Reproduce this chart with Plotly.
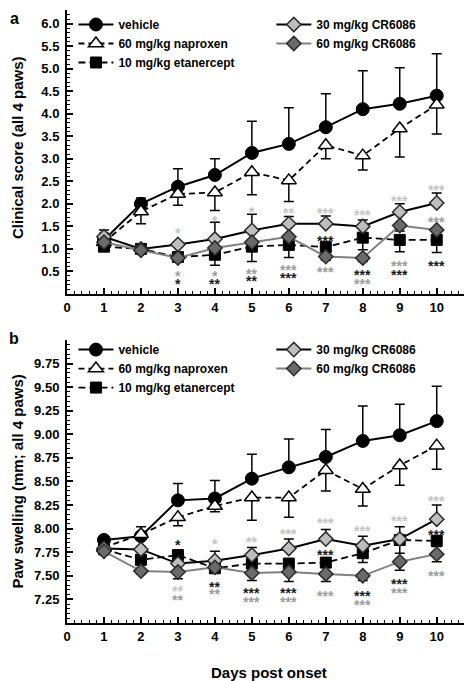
import plotly.graph_objects as go

days = [1, 2, 3, 4, 5, 6, 7, 8, 9, 10]
x_tick_vals = [0, 1, 2, 3, 4, 5, 6, 7, 8, 9, 10]

# ---- panel a: clinical score ----
clin_vehicle = [1.20, 2.00, 2.38, 2.64, 3.13, 3.33, 3.70, 4.10, 4.22, 4.40]
clin_vehicle_up = [0.15, 0.13, 0.40, 0.36, 0.70, 0.80, 0.74, 0.85, 0.80, 0.93]
clin_naproxen = [1.15, 1.83, 2.22, 2.25, 2.70, 2.52, 3.30, 3.07, 3.67, 4.20]
clin_naproxen_dn = [0.10, 0.27, 0.25, 0.40, 0.50, 0.47, 0.30, 0.32, 0.63, 0.65]
clin_etanercept = [1.05, 1.00, 0.82, 0.87, 1.05, 1.09, 1.04, 1.25, 1.20, 1.20]
clin_etanercept_dn = [0.05, 0.05, 0.05, 0.23, 0.33, 0.28, 0.10, 0.27, 0.26, 0.28]
clin_cr30 = [1.27, 1.00, 1.10, 1.22, 1.41, 1.56, 1.56, 1.50, 1.82, 2.02]
clin_cr30_up = [0.15, 0.03, 0.05, 0.37, 0.36, 0.16, 0.17, 0.14, 0.18, 0.22]
clin_cr60 = [1.15, 0.97, 0.80, 1.02, 1.15, 1.27, 0.83, 0.80, 1.52, 1.42]
clin_cr60_dn = [0.05, 0.05, 0.05, 0.10, 0.10, 0.10, 0.08, 0.08, 0.12, 0.12]
clin_yticks = [0.5, 1.0, 1.5, 2.0, 2.5, 3.0, 3.5, 4.0, 4.5, 5.0, 5.5, 6.0]

clin_star_days = [3, 4, 5, 6, 7, 8, 9, 10,
                  3, 4, 5, 6, 7, 8, 9, 10,
                  3, 4, 5, 6, 7, 8, 9, 10]
clin_star_vals = [1.42, 1.69, 1.89, 1.87, 1.87, 1.82, 2.13, 2.38,
                  0.47, 0.47, 0.51, 0.60, 0.55, 0.29, 0.69, 1.67,
                  0.29, 0.29, 0.35, 0.42, 1.24, 0.48, 0.49, 0.69]
clin_star_text = ["*", "*", "*", "**", "***", "***", "***", "***",
                  "*", "*", "**", "***", "***", "***", "***", "***",
                  "*", "**", "**", "***", "***", "***", "***", "***"]
clin_star_tone = ["light"] * 8 + ["mid"] * 8 + ["dark"] * 8

# ---- panel b: paw swelling ----
sw_vehicle = [7.88, 7.92, 8.30, 8.32, 8.53, 8.65, 8.76, 8.93, 8.99, 9.14]
sw_vehicle_up = [0.03, 0.10, 0.18, 0.19, 0.26, 0.30, 0.29, 0.37, 0.33, 0.37]
sw_naproxen = [7.80, 7.94, 8.12, 8.24, 8.33, 8.33, 8.62, 8.42, 8.67, 8.88]
sw_naproxen_dn = [0.03, 0.05, 0.09, 0.06, 0.24, 0.21, 0.22, 0.18, 0.21, 0.25]
sw_etanercept = [7.78, 7.67, 7.72, 7.58, 7.63, 7.63, 7.64, 7.74, 7.88, 7.87]
sw_etanercept_dn = [0.03, 0.05, 0.05, 0.05, 0.04, 0.04, 0.04, 0.10, 0.14, 0.06]
sw_cr30 = [7.79, 7.78, 7.63, 7.66, 7.72, 7.79, 7.89, 7.82, 7.89, 8.10]
sw_cr30_up = [0.02, 0.03, 0.03, 0.10, 0.08, 0.10, 0.10, 0.10, 0.13, 0.15]
sw_cr60 = [7.76, 7.55, 7.54, 7.59, 7.53, 7.54, 7.52, 7.50, 7.65, 7.73]
sw_cr60_dn = [0.02, 0.03, 0.07, 0.05, 0.08, 0.10, 0.08, 0.05, 0.09, 0.08]
sw_yticks = [7.25, 7.50, 7.75, 8.00, 8.25, 8.50, 8.75, 9.00, 9.25, 9.50, 9.75]

sw_star_days = [3, 4, 5, 6, 7, 8, 9, 10,
                3, 4, 5, 6, 7, 8, 9, 10,
                3, 4, 5, 6, 7, 8, 9, 10]
sw_star_vals = [7.37, 7.87, 7.89, 7.97, 8.09, 8.01, 8.11, 8.33,
                7.28, 7.34, 7.25, 7.25, 7.32, 7.22, 7.35, 7.53,
                7.86, 7.41, 7.35, 7.35, 7.75, 7.32, 7.44, 7.96]
sw_star_text = ["**", "*", "**", "***", "***", "***", "***", "***",
                "**", "**", "***", "***", "***", "***", "***", "***",
                "*", "**", "***", "***", "***", "***", "***", "***"]
sw_star_tone = ["light"] * 8 + ["mid"] * 8 + ["dark"] * 8

names = ["vehicle", "60 mg/kg naproxen", "10 mg/kg etanercept",
         "30 mg/kg CR6086", "60 mg/kg CR6086"]

FONT = "Liberation Sans, Arial, sans-serif"
tone_color = {"light": "#c4c4c4", "mid": "#9c9c9c", "dark": "#1a1a1a"}

styles = [
    dict(line=dict(color="#000000", width=2, dash="solid"),
         marker=dict(symbol="circle", size=13, color="#000000", line=dict(color="#000000", width=1))),
    dict(line=dict(color="#000000", width=1.8, dash="6px,4px"),
         marker=dict(symbol="triangle-up", size=13, color="#ffffff", line=dict(color="#000000", width=1.5))),
    dict(line=dict(color="#000000", width=1.8, dash="7px,4px"),
         marker=dict(symbol="square", size=11, color="#000000", line=dict(color="#000000", width=1))),
    dict(line=dict(color="#000000", width=2, dash="solid"),
         marker=dict(symbol="diamond", size=11, color="#bebebe", line=dict(color="#2a2a2a", width=1.5))),
    dict(line=dict(color="#808080", width=2, dash="solid"),
         marker=dict(symbol="diamond", size=11, color="#6a6a6a", line=dict(color="#2a2a2a", width=1.5))),
]

fig = go.Figure()


def add_panel(series, errs, err_dir, xa, ya, legs):
    for i, (vals, err, d) in enumerate(zip(series, errs, err_dir)):
        if d == "up":
            ey = dict(type="data", symmetric=False, array=err, arrayminus=[0] * len(err),
                      color="#000000", thickness=1.5, width=5)
        else:
            ey = dict(type="data", symmetric=False, array=[0] * len(err), arrayminus=err,
                      color="#000000", thickness=1.5, width=5)
        fig.add_trace(go.Scatter(
            x=days, y=vals, mode="lines+markers", name=names[i],
            line=styles[i]["line"], marker=styles[i]["marker"], error_y=ey,
            xaxis=xa, yaxis=ya, legend=legs[0] if i < 3 else legs[1],
        ))


add_panel([clin_vehicle, clin_naproxen, clin_etanercept, clin_cr30, clin_cr60],
          [clin_vehicle_up, clin_naproxen_dn, clin_etanercept_dn, clin_cr30_up, clin_cr60_dn],
          ["up", "down", "down", "up", "down"], "x", "y", ("legend", "legend2"))
add_panel([sw_vehicle, sw_naproxen, sw_etanercept, sw_cr30, sw_cr60],
          [sw_vehicle_up, sw_naproxen_dn, sw_etanercept_dn, sw_cr30_up, sw_cr60_dn],
          ["up", "down", "down", "up", "down"], "x2", "y2", ("legend3", "legend4"))

annotations = []
for dd, vv, tt, tn in zip(clin_star_days, clin_star_vals, clin_star_text, clin_star_tone):
    annotations.append(dict(x=dd, y=vv, xref="x", yref="y", text="<b>%s</b>" % tt, showarrow=False,
                            font=dict(family=FONT, size=14, color=tone_color[tn]),
                            xanchor="center", yanchor="middle", yshift=-3))
for dd, vv, tt, tn in zip(sw_star_days, sw_star_vals, sw_star_text, sw_star_tone):
    annotations.append(dict(x=dd, y=vv, xref="x2", yref="y2", text="<b>%s</b>" % tt, showarrow=False,
                            font=dict(family=FONT, size=14, color=tone_color[tn]),
                            xanchor="center", yanchor="middle", yshift=-3))

top_dom = [0.5367, 1.0]
bot_dom = [0.0, 0.4617]

annotations += [
    dict(text="<b>Clinical score (all 4 paws)</b>", xref="paper", yref="paper",
         x=0, y=(top_dom[0] + top_dom[1]) / 2, xanchor="center", yanchor="middle",
         xshift=-50, yshift=4, textangle=-90, showarrow=False,
         font=dict(family=FONT, size=15, color="#000000")),
    dict(text="<b>Paw swelling (mm; all 4 paws)</b>", xref="paper", yref="paper",
         x=0, y=(bot_dom[0] + bot_dom[1]) / 2, xanchor="center", yanchor="middle",
         xshift=-50, yshift=0, textangle=-90, showarrow=False,
         font=dict(family=FONT, size=15, color="#000000")),
    dict(text="<b>Days post onset</b>", xref="paper", yref="paper",
         x=0.5, y=0, xanchor="center", yanchor="middle", yshift=-49, showarrow=False,
         font=dict(family=FONT, size=15, color="#000000")),
    dict(text="<b>a</b>", xref="paper", yref="paper", x=0, y=1, xanchor="center",
         yanchor="middle", xshift=-53, yshift=-8, showarrow=False,
         font=dict(family=FONT, size=16, color="#000000")),
    dict(text="<b>b</b>", xref="paper", yref="paper", x=0, y=bot_dom[1], xanchor="center",
         yanchor="middle", xshift=-53, yshift=1, showarrow=False,
         font=dict(family=FONT, size=16, color="#000000")),
]

tickfont = dict(family=FONT, size=13, color="#000000")
xaxis_common = dict(range=[0, 10.9], tickmode="array", tickvals=x_tick_vals,
                    ticktext=["<b>%d</b>" % v for v in x_tick_vals],
                    showline=True, linecolor="#000000", linewidth=2,
                    ticks="inside", ticklen=6, tickwidth=1.5, tickcolor="#000000",
                    minor=dict(dtick=0.2, tick0=0, ticks="inside", ticklen=3,
                               tickwidth=1.2, tickcolor="#000000"),
                    showgrid=False, zeroline=False, tickfont=tickfont,
                    ticklabelstandoff=0)

legend_common = dict(bgcolor="rgba(0,0,0,0)", borderwidth=0,
                     font=dict(family=FONT, size=12, color="#000000", weight="bold"),
                     xanchor="left", yanchor="top", tracegroupgap=0,
                     itemwidth=35)

# the page body adds an 8px offset, so the figure is sized to fit the 472x681 window
fig.update_layout(
    width=464, height=673,
    margin=dict(l=59, r=2, t=2, b=58),
    paper_bgcolor="#ffffff", plot_bgcolor="#ffffff",
    font=dict(family=FONT, size=12, color="#000000"),
    xaxis=dict(domain=[0, 1], anchor="y", **xaxis_common),
    xaxis2=dict(domain=[0, 1], anchor="y2", **xaxis_common),
    yaxis=dict(domain=top_dom, anchor="x", range=[0, 6.3], tickmode="array",
               tickvals=clin_yticks, ticktext=["<b>%.1f</b>" % v for v in clin_yticks],
               showline=True, linecolor="#000000", linewidth=2,
               ticks="inside", ticklen=6, tickwidth=1.5, tickcolor="#000000",
               minor=dict(dtick=0.1, tick0=0, ticks="inside", ticklen=3,
                          tickwidth=1.2, tickcolor="#000000"),
               showgrid=False, zeroline=False, tickfont=tickfont, ticklabelstandoff=3),
    yaxis2=dict(domain=bot_dom, anchor="x2", range=[7.0, 10.0], tickmode="array",
                tickvals=sw_yticks, ticktext=["<b>%.2f</b>" % v for v in sw_yticks],
                showline=True, linecolor="#000000", linewidth=2,
                ticks="inside", ticklen=6, tickwidth=1.5, tickcolor="#000000",
                minor=dict(dtick=0.05, tick0=7.0, ticks="inside", ticklen=3,
                           tickwidth=1.2, tickcolor="#000000"),
                showgrid=False, zeroline=False, tickfont=tickfont, ticklabelstandoff=3),
    legend=dict(x=0.016, y=1.0, **legend_common),
    legend2=dict(x=0.507, y=1.0, **legend_common),
    legend3=dict(x=0.016, y=bot_dom[1] + 0.008, **legend_common),
    legend4=dict(x=0.507, y=bot_dom[1] + 0.008, **legend_common),
    annotations=annotations,
    showlegend=True,
)

fig.write_html("out.html")
